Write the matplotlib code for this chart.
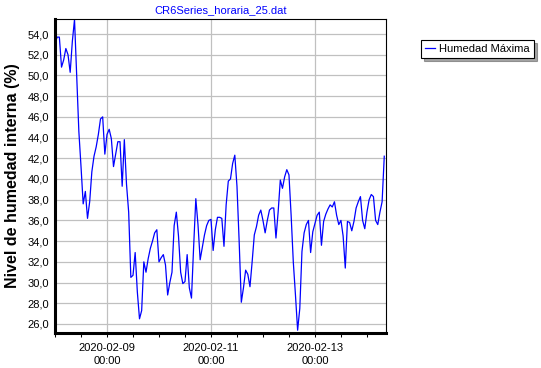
import matplotlib
matplotlib.use("Agg")
import matplotlib.pyplot as plt
import matplotlib.dates as mdates
import numpy as np
import pandas as pd

# Hourly data starting 2020-02-08 00:00
start_time = "2020-02-08 00:00"
humedad_maxima = [
    53.1, 53.7, 53.7, 50.8, 51.5, 52.6, 52.0, 50.3, 53.3, 55.4,
    50.0, 44.6, 41.2, 37.6, 38.8, 36.2, 37.8, 40.7, 42.2, 43.1,
    44.3, 45.8, 46.0, 42.4, 44.3, 44.8, 43.9, 41.2, 42.4, 43.6,
    43.6, 39.3, 43.8, 39.5, 36.8, 30.5, 30.7, 32.9, 29.1, 26.5,
    27.3, 32.0, 31.0, 32.3, 33.3, 34.0, 34.8, 35.1, 32.0, 32.4,
    32.7, 31.7, 28.8, 30.0, 31.0, 35.5, 36.8, 34.5, 31.0, 29.9,
    30.1, 32.7, 29.5, 28.5, 33.5, 38.1, 35.6, 32.2, 33.4, 34.6,
    35.5, 36.0, 36.1, 33.1, 35.1, 36.3, 36.3, 36.2, 33.5, 37.5,
    39.8, 40.0, 41.5, 42.3, 39.3, 34.0, 28.1, 29.5, 31.2, 30.8,
    29.6, 32.0, 34.6, 35.4, 36.5, 37.0, 36.0, 34.8, 36.0, 37.0,
    37.2, 37.2, 34.3, 36.8, 39.9, 39.1, 40.2, 40.9, 40.4, 36.5,
    32.0, 28.8, 25.4, 27.5, 33.0, 34.8, 35.6, 36.0, 32.9, 34.9,
    35.7, 36.5, 36.8, 33.6, 35.9, 36.6, 37.1, 37.5, 37.3, 37.8,
    36.5, 35.6, 36.0, 34.5, 31.4, 35.9, 35.8, 35.0, 35.9, 37.2,
    37.8, 38.3, 36.0, 35.2, 36.8, 38.0, 38.5, 38.3, 36.0, 35.6,
    36.8, 37.8, 42.2,
]
times = pd.date_range(start_time, periods=len(humedad_maxima), freq="h")

y_ticks = np.arange(26, 55, 2)
font = "Liberation Sans"

fig = plt.figure(figsize=(5.41, 3.68), dpi=100)
ax = fig.add_axes([0.1017, 0.0951, 0.6118, 0.8533])

ax.plot(times, humedad_maxima, color="#0000ff", linewidth=0.9, label="Humedad Máxima")

# Axis limits
ax.set_xlim(times[0], times[0] + pd.Timedelta(hours=152.8))
ax.set_ylim(25.13, 55.45)

# Ticks
ax.xaxis.set_major_locator(mdates.DayLocator(bymonthday=[9, 11, 13]))
ax.xaxis.set_major_formatter(mdates.DateFormatter("%Y-%m-%d\n%H:%M"))
ax.xaxis.set_minor_locator(mdates.HourLocator(byhour=[0, 12]))
ax.set_yticks(y_ticks)
ax.set_yticklabels([f"{v:.1f}".replace(".", ",") for v in y_ticks])

ax.tick_params(axis="x", which="both", direction="out", length=2.8, width=0.75,
               pad=4.5, labelsize=8, colors="black")
ax.tick_params(axis="y", length=0, pad=4.5, labelsize=8)
for lbl in ax.get_xticklabels() + ax.get_yticklabels():
    lbl.set_fontfamily(font)
    lbl.set_linespacing(1.35)

# Grid
ax.grid(True, axis="y", color="#c0c0c0", linewidth=0.9)
ax.grid(True, axis="x", which="major", color="#c0c0c0", linewidth=0.9)
ax.set_axisbelow(True)

# Spines: thick left/bottom
ax.spines["left"].set_linewidth(2.2)
ax.spines["bottom"].set_linewidth(2.2)
ax.spines["top"].set_linewidth(0.8)
ax.spines["right"].set_linewidth(0.8)

# Labels
ax.set_ylabel("Nivel de humedad interna (%)", fontsize=11.5, fontweight="bold",
              fontfamily=font, labelpad=5)
ax.set_title("CR6Series_horaria_25.dat", fontsize=8, color="#0000ff",
             fontfamily=font, pad=4)

leg = ax.legend(loc="upper left", bbox_to_anchor=(0.778, 0.891),
                bbox_transform=fig.transFigure, frameon=True, fancybox=False,
                shadow=True, handlelength=0.9, handletextpad=0.4,
                borderpad=0.35, borderaxespad=0, prop={"family": font, "size": 8})
leg.get_frame().set_edgecolor("black")
leg.get_frame().set_linewidth(0.8)

fig.savefig("out.png", dpi=100)
